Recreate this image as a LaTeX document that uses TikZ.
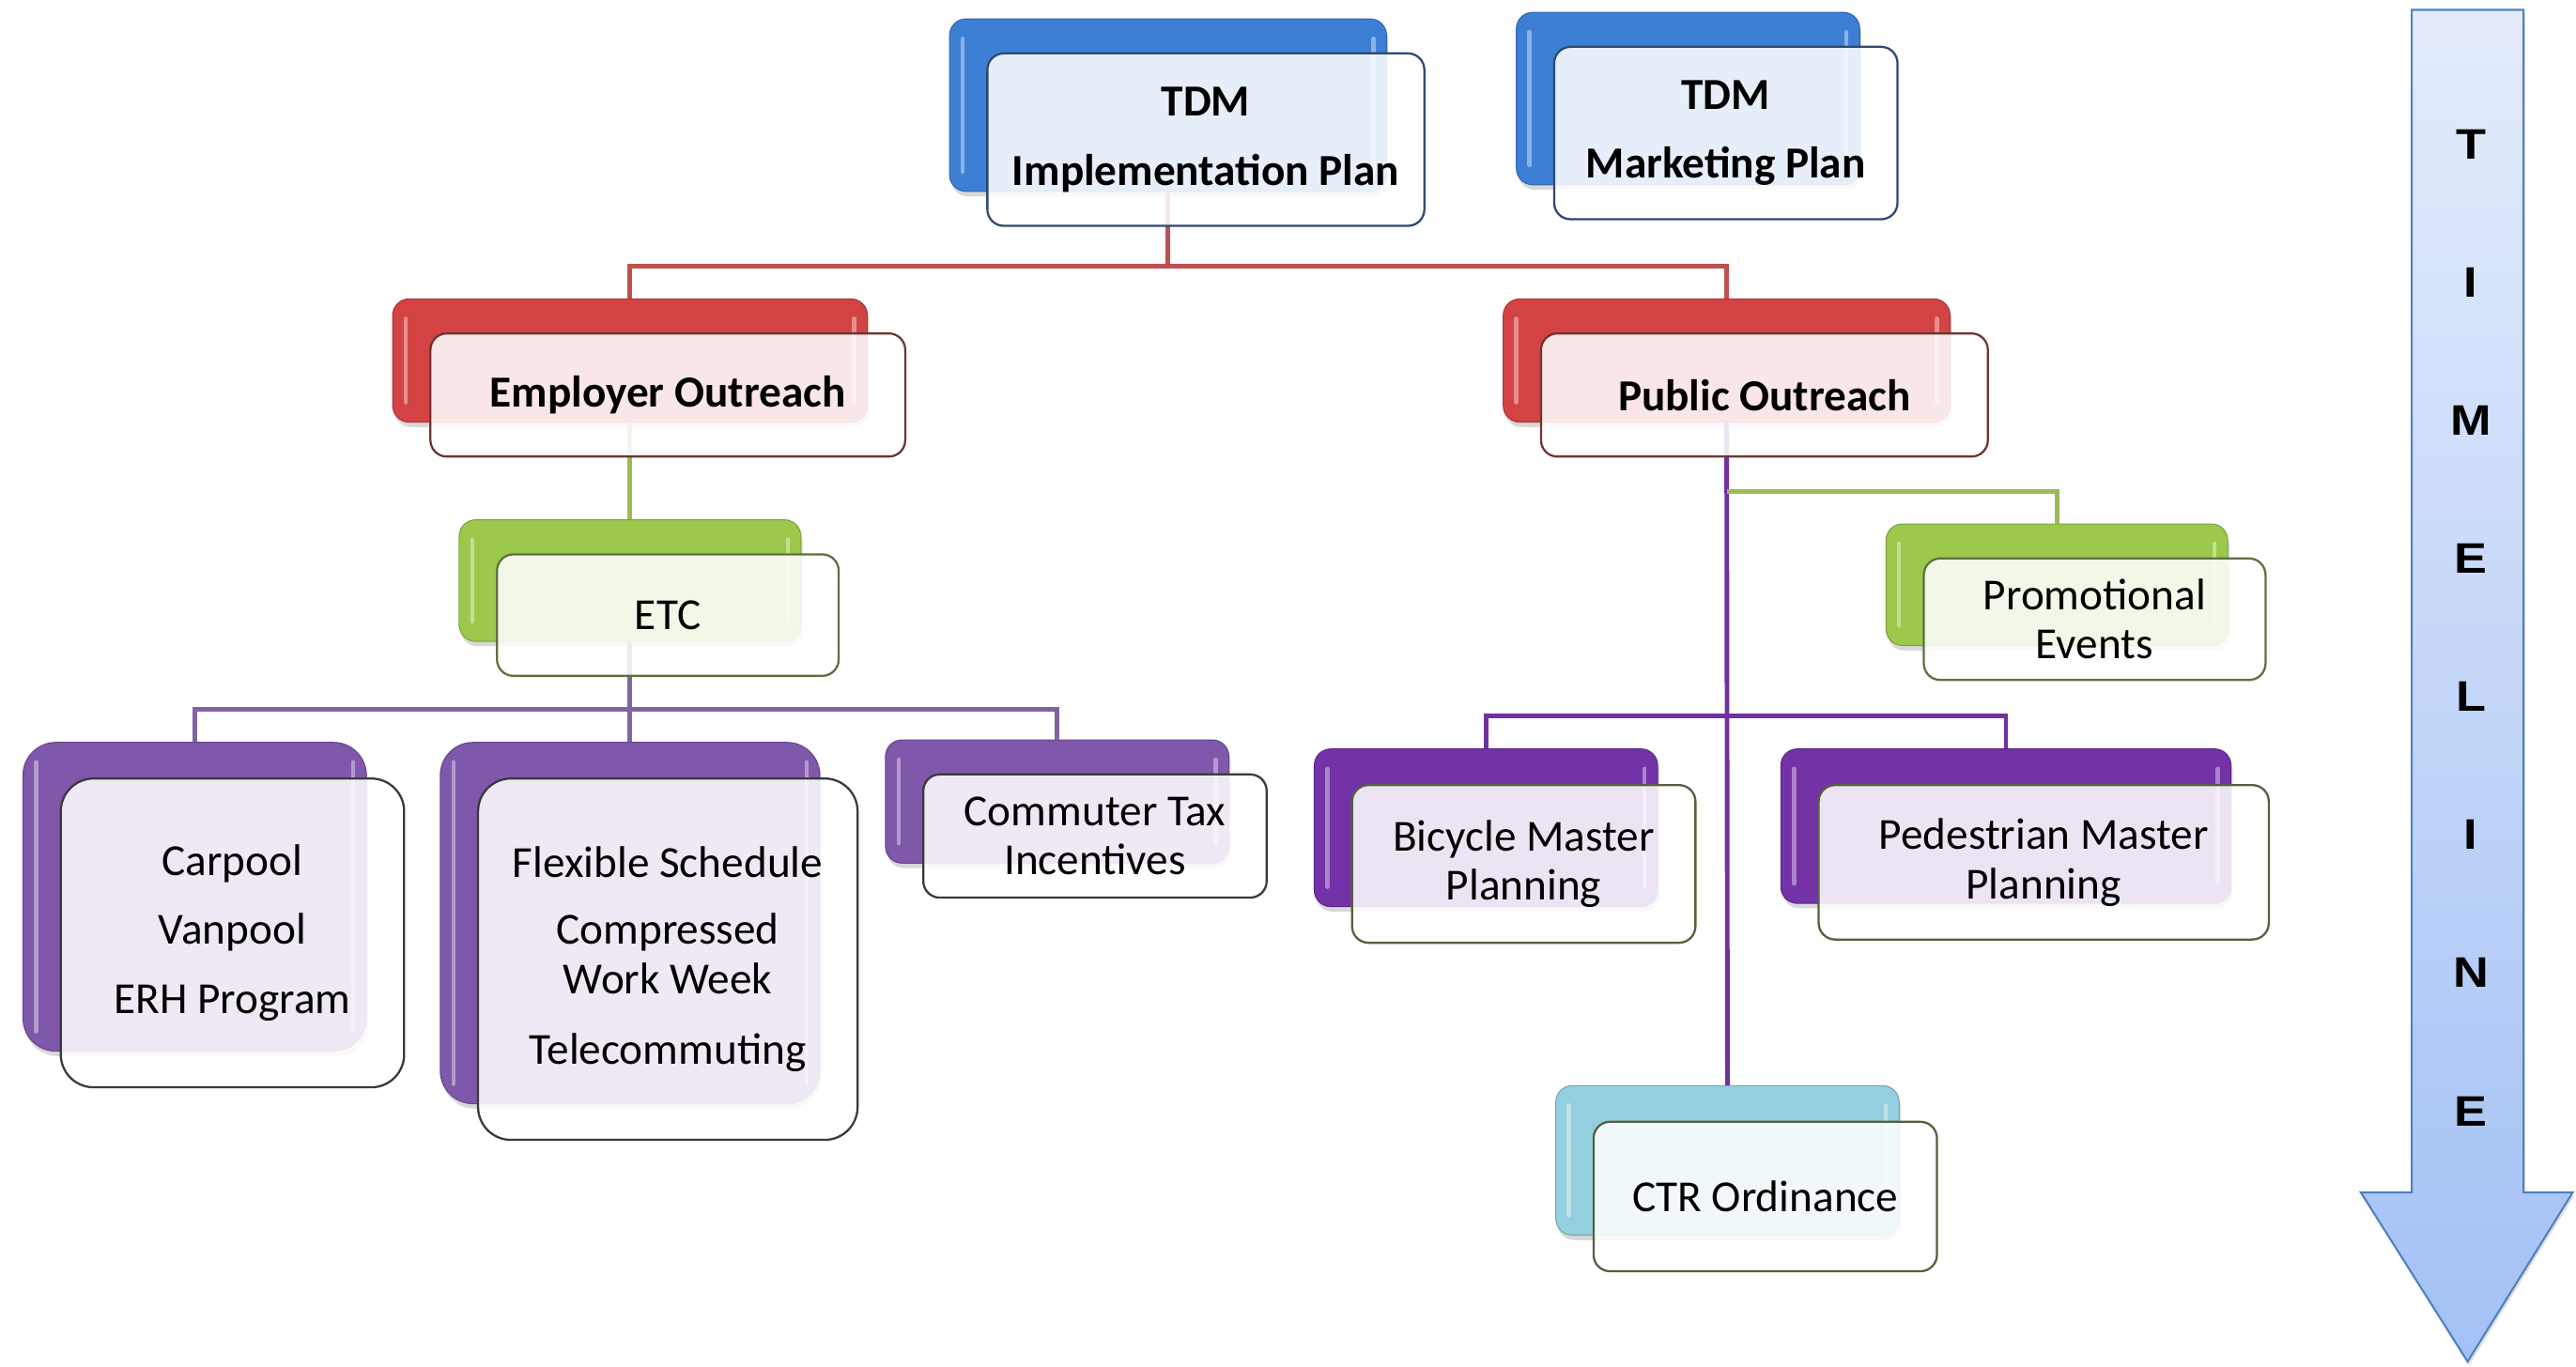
\documentclass[tikz,border=0pt]{standalone}
\usepackage{fontspec}
\setmainfont{Carlito}
\newfontfamily\tlfont{Liberation Sans}
\usetikzlibrary{shadows}
\definecolor{cBlue}{HTML}{3D7FD5}
\definecolor{cRed}{HTML}{D44343}
\definecolor{cGreen}{HTML}{9CC94B}
\definecolor{cPurA}{HTML}{7F57AB}
\definecolor{cPurB}{HTML}{7432A8}
\definecolor{cCyan}{HTML}{93CFDE}
\definecolor{bNavy}{HTML}{2E4A70}
\definecolor{bRed}{HTML}{6E3535}
\definecolor{bGreen}{HTML}{5F7040}
\definecolor{bGray}{HTML}{3A3A3A}
\definecolor{bOlive}{HTML}{55603F}
\definecolor{lRed}{HTML}{C0504D}
\definecolor{lGreen}{HTML}{9BBB59}
\definecolor{lPurA}{HTML}{8064A2}
\definecolor{lPurB}{HTML}{7030A0}
\definecolor{tlTop}{HTML}{E4ECFC}
\definecolor{tlBot}{HTML}{A3C1F5}
\definecolor{tlEdge}{HTML}{4F81BD}
\tikzset{
  backbox/.style={fill=#1, draw=#1!80!black, line width=0.6pt, rounded corners=10pt,
    inner sep=0pt, drop shadow={shadow xshift=1pt, shadow yshift=-3pt, opacity=0.3},
    path picture={
      \draw[white, opacity=0.4, line width=2.5pt, line cap=round]
        ([shift={(8,12)}]path picture bounding box.north west) --
        ([shift={(8,-12)}]path picture bounding box.south west);
      \draw[white, opacity=0.4, line width=2.5pt, line cap=round]
        ([shift={(-8,12)}]path picture bounding box.north east) --
        ([shift={(-8,-12)}]path picture bounding box.south east);}},
  frontbox/.style={draw=#1, line width=1.3pt, fill=white, fill opacity=0.87, text opacity=1,
    rounded corners=10pt, align=center, inner sep=0pt, font=\fontsize{27}{30}\selectfont},
  conn/.style={draw=#1, line width=2.8pt},
  tl/.style={font=\tlfont\bfseries\fontsize{26}{28}\selectfont, inner sep=0pt, xscale=1.15}
}
\begin{document}
\begin{tikzpicture}[x=1pt, y=-1pt]
\useasboundingbox (0,0) rectangle (1568,832);
\fill[white] (0,0) rectangle (1568,832);

% connector junctions
\coordinate (j1) at (711,162);
\coordinate (j2) at (383.5,432);
\coordinate (j3) at (1051,299);
\coordinate (j4) at (1051,436);

% back boxes
\node[backbox=cBlue, minimum width=266pt, minimum height=105pt] (impB) at (711,64) {};
\node[backbox=cBlue, minimum width=209pt, minimum height=105pt] (mktB) at (1027.5,60) {};
\node[backbox=cRed, minimum width=289pt, minimum height=75pt] (empB) at (383.5,219.5) {};
\node[backbox=cRed, minimum width=272pt, minimum height=75pt] (pubB) at (1051,219.5) {};
\node[backbox=cGreen, minimum width=208pt, minimum height=74pt] (etcB) at (383.5,353.5) {};
\node[backbox=cGreen, minimum width=208pt, minimum height=74pt] (proB) at (1252,356) {};
\node[backbox=cPurA, rounded corners=20pt, minimum width=209pt, minimum height=188pt] (carB) at (118.5,546) {};
\node[backbox=cPurA, rounded corners=20pt, minimum width=231pt, minimum height=220pt] (flxB) at (383.5,562) {};
\node[backbox=cPurA, minimum width=209pt, minimum height=75pt] (comB) at (643.5,488) {};
\node[backbox=cPurB, minimum width=209pt, minimum height=96pt] (bicB) at (904.5,504) {};
\node[backbox=cPurB, minimum width=274pt, minimum height=94pt] (pedB) at (1221,503) {};
\node[backbox=cCyan, minimum width=209pt, minimum height=91pt] (ctrB) at (1051.5,706.5) {};

% connectors
\draw[conn=lRed] (impB.south) -- (j1);
\draw[conn=lRed] (empB.north) |- (j1) -| (pubB.north);
\draw[conn=lGreen] (empB.south) -- (etcB.north);
\draw[conn=lPurA] (etcB.south) -- (j2);
\draw[conn=lPurA] (carB.north) |- (j2) -| (comB.north);
\draw[conn=lPurA] (j2) -- (flxB.north);
\draw[conn=lPurB] (pubB.south) -- (ctrB.north);
\draw[conn=lGreen] (j3) -| (proB.north);
\draw[conn=lPurB] (bicB.north) |- (j4) -| (pedB.north);

% front boxes
\node[frontbox=bNavy, minimum width=266pt, minimum height=105pt] (impF) at ([shift={(23,21)}]impB.center)
  {\bfseries TDM\\[12pt]\bfseries Implementation Plan};
\node[frontbox=bNavy, minimum width=209pt, minimum height=105pt] (mktF) at ([shift={(23,21)}]mktB.center)
  {\bfseries TDM\\[12pt]\bfseries Marketing Plan};
\node[frontbox=bRed, minimum width=289pt, minimum height=75pt] (empF) at ([shift={(23,21)}]empB.center)
  {\bfseries Employer Outreach};
\node[frontbox=bRed, minimum width=272pt, minimum height=75pt] (pubF) at ([shift={(23,21)}]pubB.center)
  {\bfseries Public Outreach};
\node[frontbox=bGreen, minimum width=208pt, minimum height=74pt] (etcF) at ([shift={(23,21)}]etcB.center)
  {ETC};
\node[frontbox=bGreen, minimum width=208pt, minimum height=74pt] (proF) at ([shift={(23,21)}]proB.center)
  {Promotional\\Events};
\node[frontbox=bGray, rounded corners=20pt, minimum width=209pt, minimum height=188pt] (carF) at ([shift={(23,22)}]carB.center)
  {Carpool\\[12pt]Vanpool\\[12pt]ERH Program};
\node[frontbox=bGray, rounded corners=20pt, minimum width=231pt, minimum height=220pt] (flxF) at ([shift={(23,22)}]flxB.center)
  {Flexible Schedule\\[11pt]Compressed\\Work Week\\[13pt]Telecommuting};
\node[frontbox=bGray, minimum width=209pt, minimum height=75pt] (comF) at ([shift={(23,21)}]comB.center)
  {Commuter Tax\\Incentives};
\node[frontbox=bOlive, minimum width=209pt, minimum height=96pt] (bicF) at ([shift={(23,22)}]bicB.center)
  {Bicycle Master\\Planning};
\node[frontbox=bOlive, minimum width=274pt, minimum height=94pt] (pedF) at ([shift={(23,22)}]pedB.center)
  {Pedestrian Master\\Planning};
\node[frontbox=bOlive, minimum width=209pt, minimum height=91pt] (ctrF) at ([shift={(23,22)}]ctrB.center)
  {CTR Ordinance};

% timeline arrow
\shadedraw[top color=tlTop, bottom color=tlBot, draw=tlEdge, line width=1.2pt,
  drop shadow={shadow xshift=1pt, shadow yshift=-2pt, opacity=0.25}]
  (1468,6) -- (1536,6) -- (1536,726) -- (1566,726) -- (1502,829) -- (1437,726) -- (1468,726) -- cycle;
\node[tl] (tl1) at (1504,88) {T};
\node[tl] (tl2) at (1504,172) {I};
\node[tl] (tl3) at (1504,256) {M};
\node[tl] (tl4) at (1504,340) {E};
\node[tl] (tl5) at (1504,424) {L};
\node[tl] (tl6) at (1504,508) {I};
\node[tl] (tl7) at (1504,592) {N};
\node[tl] (tl8) at (1504,677) {E};
\end{tikzpicture}
\end{document}
